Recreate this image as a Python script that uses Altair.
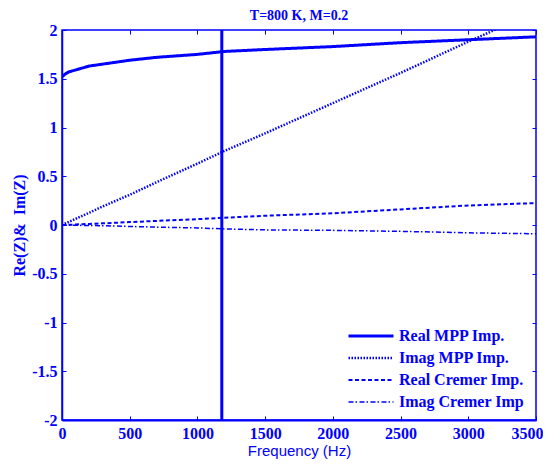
import altair as alt
import pandas as pd

BLUE = "#0000ff"

FREQ = [0, 25, 50, 100, 150, 200, 300, 400, 500, 700, 1000, 1200, 1500, 2000, 2500, 3000, 3500]
REAL_MPP = [1.52, 1.55, 1.57, 1.59, 1.61, 1.63, 1.65, 1.67, 1.69, 1.72, 1.75, 1.78, 1.80, 1.83, 1.87, 1.90, 1.93]
IMAG_MPP = [0.0, 0.016, 0.031, 0.063, 0.094, 0.125, 0.19, 0.25, 0.31, 0.44, 0.63, 0.76, 0.94, 1.25, 1.56, 1.88, 2.19]
REAL_CREMER = [0.0, 0.001, 0.002, 0.005, 0.008, 0.011, 0.017, 0.023, 0.03, 0.042, 0.06, 0.075, 0.095, 0.12, 0.16, 0.20, 0.225]
IMAG_CREMER = [0.0, -0.001, -0.002, -0.003, -0.004, -0.005, -0.008, -0.011, -0.015, -0.022, -0.03, -0.04, -0.05, -0.055, -0.065, -0.08, -0.09]

SERIES = ["Real MPP Imp.", "Imag MPP Imp.", "Real Cremer Imp.", "Imag Cremer Imp"]
MARKER_FREQ = [1180]
X_TICKS = [0, 500, 1000, 1500, 2000, 2500, 3000, 3500]
Y_TICKS = [-2, -1.5, -1, -0.5, 0, 0.5, 1, 1.5, 2]

W, H = 474, 390

rows = []
for name, vals in zip(SERIES, [REAL_MPP, IMAG_MPP, REAL_CREMER, IMAG_CREMER]):
    for f, v in zip(FREQ, vals):
        rows.append({"freq": f, "value": v, "series": name})
df = pd.DataFrame(rows)

xscale = alt.Scale(domain=[0, 3500], nice=False, zero=False)
yscale = alt.Scale(domain=[-2, 2], nice=False, zero=False)

SERIF = "Liberation Serif"

legend = alt.Legend(
    title=None, orient="none", legendX=301, legendY=298,
    symbolType="M-5,0H5", symbolSize=81, symbolStrokeColor=BLUE,
    symbolFillColor="transparent",
    labelFont=SERIF, labelFontWeight="bold", labelFontSize=16, labelColor=BLUE,
    labelOffset=20, rowPadding=6, padding=0,
)

lines = alt.Chart(df).mark_line(clip=True, color=BLUE).encode(
    x=alt.X("freq:Q", scale=xscale, axis=alt.Axis(
        orient="bottom", values=X_TICKS, ticks=False, domainWidth=2,
        title="Frequency (Hz)", titleFont="Liberation Sans", titleFontWeight="normal",
        titleFontSize=15, titleColor=BLUE, titlePadding=2,
        labelFont=SERIF, labelFontWeight="bold", labelFontSize=16, labelColor=BLUE,
        labelPadding=5, labelFlush=False,
        labelAlign={"condition": {"test": "datum.value == 3500", "value": "right"}, "value": "center"},
        labelOffset={"condition": {"test": "datum.value == 3500", "value": 7}, "value": 0},
        labelExpr="toString(datum.value)")),
    y=alt.Y("value:Q", scale=yscale, axis=alt.Axis(
        orient="left", values=Y_TICKS, ticks=False, domainWidth=1.5,
        title="Re(Z)&\u00a0 Im(Z)", titleFont=SERIF, titleFontWeight="bold",
        titleFontSize=16, titleColor=BLUE, titlePadding=4,
        labelFont=SERIF, labelFontWeight="bold", labelFontSize=16, labelColor=BLUE,
        labelPadding=5, labelFlush=False, labelExpr="toString(datum.value)")),
    strokeDash=alt.StrokeDash("series:N", scale=alt.Scale(
        domain=SERIES, range=[[1, 0], [1.5, 1.5], [4, 2.5], [5, 2, 1.5, 2.5]]), legend=legend),
    strokeWidth=alt.StrokeWidth("series:N", scale=alt.Scale(
        domain=SERIES, range=[3, 1.5, 2.5, 2]), legend=legend),
    order="freq:Q",
)

rule = alt.Chart(pd.DataFrame({"freq": MARKER_FREQ})).mark_rule(
    color=BLUE, strokeWidth=3).encode(x=alt.X("freq:Q", scale=xscale, axis=None))

tick_common = dict(labels=False, domain=False, ticks=True, tickSize=4,
                   tickColor=BLUE, tickWidth=1, title=None)

ticks_a = alt.Chart(df).mark_point(opacity=0).encode(
    x=alt.X("freq:Q", scale=xscale, axis=alt.Axis(orient="top", offset=-H, values=X_TICKS, **tick_common)),
    y=alt.Y("value:Q", scale=yscale, axis=alt.Axis(orient="right", offset=-W, values=Y_TICKS, **tick_common)),
)
ticks_b = alt.Chart(df).mark_point(opacity=0).encode(
    x=alt.X("freq:Q", scale=xscale, axis=alt.Axis(orient="bottom", offset=-H, values=X_TICKS, **tick_common)),
    y=alt.Y("value:Q", scale=yscale, axis=alt.Axis(orient="left", offset=-W, values=Y_TICKS, **tick_common)),
)

chart = alt.layer(lines, rule, ticks_a, ticks_b).resolve_axis(
    x="independent", y="independent"
).properties(
    width=W, height=H,
    title=alt.TitleParams("T=800 K, M=0.2", font=SERIF, fontWeight="bold",
                          fontSize=14, color=BLUE, offset=-14, anchor="middle",
                          frame="group"),
    autosize=alt.AutoSizeParams(type="none"),
    padding={"left": 54, "top": 22, "right": 7, "bottom": 43},
).configure_axis(grid=False, domainColor=BLUE).configure_view(
    stroke=BLUE, strokeWidth=1.5
)

chart.save("out.html", embed_options={"renderer": "svg", "actions": False})
